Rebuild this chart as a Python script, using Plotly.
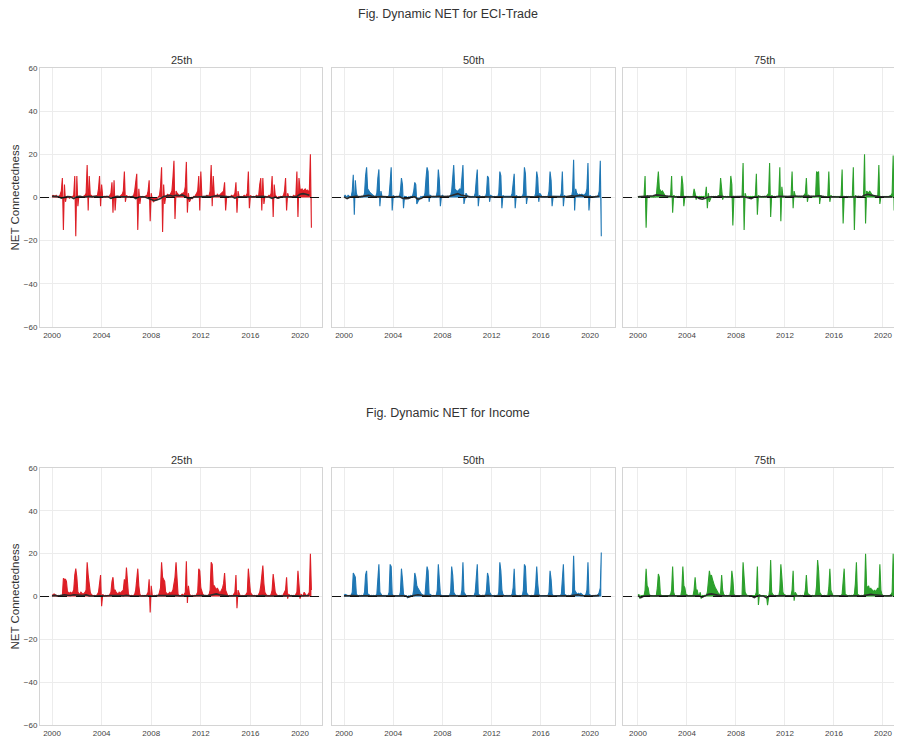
import pandas as pd
import plotly.graph_objects as go

# ---------------- data (monthly, Jan 2000 .. Dec 2020) ----------------
MONTHS = pd.date_range("2000-01-01", "2020-12-01", freq="MS")
QUARTERS = pd.date_range("2000-01-01", "2020-10-01", freq="QS")

ROW_TITLES = ["Fig. Dynamic NET for ECI-Trade", "Fig. Dynamic NET for Income"]
PANEL_TITLES = ["25th", "50th", "75th"]
Y_TICKS = [-60, -40, -20, 0, 20, 40, 60]
X_TICK_YEARS = [2000, 2004, 2008, 2012, 2016, 2020]
COLORS = ["#dd1f26", "#1f77b4", "#2ca02c"]

eci_25 = [
    0.5, 1, 0.8, 0.5, 1, 0.3, 0.6, 0.5, 1.5, 3, 9, -15,
    6, -2, 0.5, 0, 0.3, -0.5, 0.4, 0.2, 0.5, 1, 10, -18,
    10, -4, 0.5, 0.3, 0.5, 0.2, 0.4, 0.6, 1, 2, 15, -6,
    10, 1, 1, 0.5, 0.5, 0.3, 0.5, 0.8, 1, 4, 10, -4,
    6, 0.5, 0.3, 0.5, 0.2, 0.5, 0.3, 0.5, 1, 2, 7, -7,
    8, -6, 0.5, 0.3, 0.5, 0.2, 0.5, 1, 1.5, 3, 12, -2,
    1, 0.5, 0.3, 0.5, 0.2, 0.3, 0.4, 1, 3, 7, 11, -15,
    4, -3, 0.5, 0.3, 0.5, 0.2, 0.5, 0.8, 1, 3, 8, -11,
    2, -1, -2, -1.5, -1, -1, -0.5, 0, 1, 5, 14, -16,
    6, -3, 0.5, 1, 1.5, 1, 1, 2, 3, 9, 17, -10,
    3, 2, 1.5, 1, 1, 1.5, 2, 2, 2.5, 5, 16.5, -7,
    2, -2, -1, 0, -0.5, 0.5, 0.3, 1, 2, 3, 10, -6,
    12, 0.5, 0.3, 0.5, 0.2, 0.5, 1, 0.5, 1, 3, 15, -4,
    10, 1, 1, 0.5, 1.5, 1, 1, 1.5, 2, 2, 3, 7,
    -6, 0.5, 0.3, 0.5, 0.2, 0.5, 1, 0.5, 1, 2, 7, -7,
    3, 0.5, 0.3, 0.5, 0.2, 0.5, 1, 0.5, 1, 2, 12, -5,
    1, 0.5, 0.3, 0.5, 0.2, 0.5, 1, 0.5, 1, 6, 9, -6,
    9, -3, 0.3, 0.5, 0.2, 0.5, 1, 0.5, 2, 10, -9, 6,
    1, 0.5, -0.5, 0.3, 0.2, 0.5, 0.3, 0.5, 1, 3, 9, -6,
    2, 0.5, 0.3, 0.5, 0.2, 0.5, 1, 0.5, 1, 12, -9, 9,
    4, 3.5, 4, 3, 3.5, 4, 3, 3.5, 3, 3, 20, -14,
]

eci_50 = [
    0.5, 1, 0.5, 0.3, 1, 0.5, 0.3, 0.5, 3, 10.5, -8, 8,
    2, 0.5, 0.3, 0.5, 0.2, 0.5, 0.3, 0.5, 2, 10, 14, 4,
    3, 2.5, 2, 1.5, 1, 0.5, 0.3, 0.5, 2, 9, 13, -4,
    3, 0.5, 0.3, 0.5, 0.2, 0.5, 0.3, 0.5, 1, 7, 14, -6,
    1, 0.5, 0.3, 0.5, 0.2, 0.5, 0.3, 3, 9, 6, -5, 0.5,
    0.5, 0.3, -0.5, 0.3, 0.2, 0.5, 0.3, 1, 3, 7, 6, -3,
    -2, -1, 0.3, 0.5, 0.2, 0.5, 0.3, 2, 9, 14, 12, -2,
    1, 0.5, 0.3, 0.5, 0.2, 0.5, 0.3, 3, 13, 8, -4, 0.5,
    1, 0.5, 0.3, 0.5, 0.2, 0.5, 0.3, 0.5, 1, 3, 8, 15,
    4, 3.5, 3, 3, 3.5, 4, 3, 8, 15, -3, 1, 2,
    1, 0.5, 0.3, 0.5, 0.2, 0.5, 0.3, 0.5, 2, 8, 13, -4,
    1, 0.5, 0.3, 0.5, 0.2, 0.5, 0.3, 2, 10, 9, -2, 1,
    0.5, 0.5, 0.3, 0.5, 0.2, 0.5, 0.3, 2, 12, 10, -5, 1,
    0.5, 0.5, 0.3, 0.5, 0.2, 0.5, 0.3, 0.5, 2, 8, 11, -5,
    1, 0.5, 0.3, 0.5, 0.2, 0.5, 0.3, 2, 14, 11, -3, 0.5,
    0.5, 0.5, 0.3, 0.5, 0.2, 0.5, 0.3, 2, 12, 9, -2, 2,
    1, 0.5, 0.3, 0.5, 0.2, 0.5, 0.3, 0.5, 3, 12, 8, -4,
    0.5, 0.5, 0.3, 0.5, 0.2, 0.5, 0.3, 0.5, 2, 12, -4, 1,
    0.5, 0.5, 0.3, 0.5, 0.2, 0.5, 0.3, 3, 17.5, -6, 4, 2,
    1.5, 1, 1.5, 1, 1.5, 1, 1, 1.5, 2, 4, 16, -6,
    1, 0.5, 0.3, 0.5, 0.2, 0.5, 0.3, 0.5, 1, 3, 17, -18,
]

eci_75 = [
    0.5, 0.3, 0.5, 0.2, 0.5, 0.3, 0.5, 10, -14, 1, 0.5, 0.3,
    0.5, 0.3, 0.5, 0.2, 0.5, 0.3, 0.5, 9, 12, 4, 3, 2.5,
    3, 2, 1, 0.5, 0.3, 0.5, 0.2, 0.5, 1, 10, -7, 1,
    0.5, 0.3, 0.5, 0.2, 0.5, 0.3, 0.5, 10, 6, -4, 0.5, 0.3,
    0.5, 0.3, 0.5, 0.2, 0.5, 0.3, 0.5, 4, 2, -1, 0.5, 0.3,
    0.5, 0.3, 0.5, 0.2, 0.5, 0.3, 0.5, 5, -5, 2, -2, -1,
    0.5, 0.3, 0.5, 0.2, 0.5, 0.3, 0.5, 0.5, 1, 9, 5, -1,
    0.5, 0.3, 0.5, 0.2, 0.5, 0.3, 0.5, 10, 6, -13, 0.5, 0.3,
    0.5, 0.3, 0.5, 0.2, 0.5, 0.3, 0.5, 16, -15, 2, 0.5, 0.3,
    0.5, 0.3, 0.5, 0.2, 0.5, 0.3, 0.5, 0.5, 11, -8, 1, 0.5,
    0.5, 0.3, 0.5, 0.2, 0.5, 0.3, 0.5, 1, 2, 16, -9, 1,
    0.5, 0.3, 0.5, 0.2, 0.5, 0.3, 0.5, 14, -11, 5, 0.5, 0.3,
    0.5, 0.3, 0.5, 0.2, 0.5, 0.3, 0.5, 12, -5, 3, 1, 0.5,
    0.5, 0.3, 0.5, 0.2, 0.5, 0.3, 0.5, 1, 2, 9, -2, 1,
    0.5, 0.3, 0.5, 0.2, 0.5, 0.3, 0.5, 12, 11, 12, -3, 1,
    0.5, 0.3, 0.5, 0.2, 0.5, 0.3, 0.5, 12, -2, 1, 0.5, 0.3,
    0.5, 0.3, 0.5, 0.2, 0.5, 0.3, 0.5, 0.5, 13, -12, 0.5, 0.3,
    0.5, 0.3, 0.5, 0.2, 0.5, 0.3, 0.5, 14, -15, 1, 0.5, 0.3,
    0.5, 0.3, 0.5, 0.2, 0.5, 0.3, 20, -12, 3, 2.5, 2, 3,
    2, 1.5, 1, 0.5, 0.3, 0.5, 0.5, 1, 15, -3, 0.5, 0.3,
    0.5, 0.3, 0.5, 0.2, 0.5, 0.3, 0.5, 0.5, 1, 2, 19.5, -6,
]

inc_25 = [
    0.5, 1, 1.2, 0.8, 0.5, 0.3, 0.5, 0.2, 0.5, 0.3, 0.5, 8.5,
    8, 8, 7, 2, 2, 1.5, 2, 1.5, 2, 3, 10, 13,
    9, 2, 1.5, 1, 2, 1.5, 1, 1.5, 2, 3, 16, 10,
    4, 2, 1, 0.5, 0.3, 0.5, 0.2, 0.5, 1, 2, 6, 10,
    -4.5, 1, 0.5, 0.3, 0.5, 0.2, 0.5, 0.3, 1, 2, 7, 9,
    3, 3, 2, 1.5, 1, 2, 1.5, 2, 2.5, 3, 8, 5,
    13.5, 3, 1, 0.5, 0.3, 0.5, 0.2, 0.5, 1, 3, 8, 13,
    5, 1, 0.5, 0.3, 0.5, 0.2, 0.5, 0.3, 1, 2, 8, -7.5,
    5, 0.5, 0.3, 0.5, 0.2, 0.5, 0.3, 0.5, 2, 4, 16, 9,
    8, 7, 2, 1.5, 1, 1.5, 2, 1.5, 2, 3, 6, 9,
    16, 5, 1, 0.5, 0.3, 0.5, 1, 0.5, 1, 2, 16.5, -3,
    5, 1, 0.5, 0.3, 0.5, 0.2, 0.5, 0.3, 1, 2, 13, 12,
    4, 2, 1, 0.5, 0.3, 0.5, 0.2, 0.5, 1, 3, 16, 15,
    5, 5, 4, 3, 4, 3, 2, 2, 3, 4, 6, 11,
    3, 1, 0.5, 0.3, 0.5, 0.2, 0.5, 0.3, 1, 2, 10, -5.5,
    3, 1, 0.5, 0.3, 0.5, 0.2, 0.5, 0.3, 1, 2, 13, 6,
    2, 1, 0.5, 0.3, 0.5, 0.2, 0.5, 0.3, 1, 2, 5, 10,
    14.5, 6, 2, 1, 0.5, 0.3, 0.5, 0.2, 1, 3, 10.5, 6,
    2, 1, 0.5, 0.3, 0.5, 0.2, 0.5, 0.3, 1, 2, 3, 9,
    -1, 1, 0.5, 0.3, 0.5, 0.2, 0.5, 0.3, 1, 2, 12, 6,
    -1, 1, 0.5, 0.3, 2, 1, 0.5, 0.3, 1, 2, 20, 3,
]

inc_50 = [
    0.5, 1, 0.8, 0.5, 0.3, 0.5, 0.2, 0.5, 2, 11, 10, 9,
    1, 0.5, 0.3, 0.5, 0.2, 0.5, 0.3, 0.5, 2, 10, 12, 1,
    1, 0.5, 0.3, 0.5, 0.2, 0.5, 0.3, 0.5, 1, 8, 15, 2,
    1, 0.5, 0.3, 0.5, 0.2, 0.5, 0.3, 0.5, 2, 15, 14, 1,
    0.5, 0.5, 0.3, 0.5, 0.2, 0.5, 0.3, 2, 13, 8, 1, 0.5,
    0.5, 0.3, -0.5, 0.3, 0.2, 0.5, 0.3, 0.5, 3, 11, 9, 5,
    4, 3, 2, 1.5, 1, 0.5, 0.3, 0.5, 8, 14, 12, 1,
    1, 0.5, 0.3, 0.5, 0.2, 0.5, 0.3, 3, 15, 8, 1, 0.5,
    0.5, 0.5, 0.3, 0.5, 0.2, 0.5, 0.3, 0.5, 2, 14, 10, 2,
    1, 0.5, 0.3, 0.5, 0.2, 0.5, 0.3, 3, 16, 2, 1, 0.5,
    0.5, 0.5, 0.3, 0.5, 0.2, 0.5, 0.3, 0.5, 2, 9, 15, 1,
    0.5, 0.5, 0.3, 0.5, 0.2, 0.5, 0.3, 3, 11, 9, 2, 1,
    0.5, 0.5, 0.3, 0.5, 0.2, 0.5, 0.3, 2, 16, 12, 3, 1,
    0.5, 0.5, 0.3, 0.5, 0.2, 0.5, 0.3, 0.5, 1, 4, 13, 1,
    0.5, 0.5, 0.3, 0.5, 0.2, 0.5, 0.3, 3, 15, 14, 2, 1,
    0.5, 0.5, 0.3, 0.5, 0.2, 0.5, 0.3, 5, 14, 6, 1, 0.5,
    0.5, 0.5, 0.3, 0.5, 0.2, 0.5, 0.3, 0.5, 2, 12, 8, 1,
    0.5, 0.5, 0.3, 0.5, 0.2, 0.5, 0.3, 0.5, 1, 10, 15, 1,
    0.5, 0.5, 0.3, 0.5, 0.2, 0.5, 0.3, 2, 19, 3, 2, 1.5,
    1, 1.5, 1, 1.5, 1, 0.5, 0.3, 0.5, 1, 3, 16, 1,
    0.5, 0.5, 0.3, 0.5, 0.2, 0.5, 0.3, 0.5, 1, 2, 4, 20.5,
]

inc_75 = [
    0.5, 1, -1, 0.5, 0.3, 0.5, 0.2, 3, 13, 5, 4, 1,
    0.5, 0.5, 0.3, 0.5, 0.2, 0.5, 0.3, 4, 10.5, 9, 1, 0.5,
    0.5, 0.5, 0.3, 0.5, 0.2, 0.5, 0.3, 0.5, 1, 3, 14, 2,
    0.5, 0.5, 0.3, 0.5, 0.2, 0.5, 0.3, 3, 14, 5, 4, 1,
    0.5, 0.5, 0.3, 0.5, 0.2, 0.5, 0.3, 3, 9, 3, 3, 1,
    0.5, 2, -1, 0.5, 0.3, 0.5, 0.3, 0.5, 2, 7, 12, 9,
    10, 8, 6, 5, 4, 3, 2, 1, 0.5, 2, 10, 3,
    1, 0.5, 0.3, 0.5, 0.2, 0.5, 0.3, 3, 12, 8, 1, 0.5,
    0.5, 0.5, 0.3, 0.5, 0.2, 0.5, 0.3, 16, 5, 2, 1, 0.5,
    0.5, 0.5, 0.3, 0.5, 0.2, 0.5, 0.3, 0.5, 2, 14, -4, 1,
    0.5, 0.5, 0.3, 0.5, 0.2, 0.5, 0.3, -4, 1, 3, 17, 2,
    1, 0.5, 0.3, 0.5, 0.2, 0.5, 0.3, 3, 15, 9, 2, 1,
    0.5, 0.5, 0.3, 0.5, 0.2, 0.5, 0.3, 3, 12, -2, 2, 1,
    0.5, 0.5, 0.3, 0.5, 0.2, 0.5, 0.3, 0.5, 3, 10, 2, 1,
    0.5, 0.5, 0.3, 0.5, 0.2, 0.5, 0.3, 5, 17, 12, 2, 1,
    0.5, 0.5, 0.3, 0.5, 0.2, 0.5, 0.3, 4, 13, 3, 1, 0.5,
    0.5, 0.5, 0.3, 0.5, 0.2, 0.5, 0.3, 0.5, 1, 8, 13, 1,
    0.5, 0.5, 0.3, 0.5, 0.2, 0.5, 0.3, 0.5, 1, 6, 16, 1,
    0.5, 0.5, 0.3, 0.5, 0.2, 0.5, 0.3, 20, 5, 4, 5, 3,
    4, 3, 3, 2, 3, 2, 3, 4, 2, 15, 3, 1,
    0.5, 0.5, 0.3, 0.5, 0.2, 0.5, 0.3, 0.5, 1, 2, 20, 1,
]

# dark near-zero companion lines (quarterly)
dk_eci_25 = [
    0.5, 0.3, 0.4, -0.3, 0.2, 0.4, 0.3, -0.5, 0.3, 0.5, 0.2, 0.4,
    0.5, 0.3, 0.6, 0.2, 0.3, 0.2, 0.4, -0.4, 0.2, 0.5, 0.3, 0.4,
    0.3, 0.2, 0.4, -0.5, 0.2, 0.3, 0.2, -0.4, -1.0, -1.5, -1.0, -0.5,
    0.5, 0.8, 1.0, 0.6, 1.0, 0.8, 1.2, 0.5, -0.5, -0.3, 0.3, 0.2,
    0.4, 0.3, 0.5, 0.2, 0.6, 0.8, 0.7, 0.5, 0.2, 0.3, 0.4, -0.3,
    0.3, 0.2, 0.4, 0.3, 0.2, 0.3, 0.4, 0.2, 0.5, 0.3, 0.2, -0.4,
    0.2, -0.3, 0.3, 0.2, 0.4, 0.3, 0.2, 0.5, 1.5, 1.8, 1.5, 1.0,
]
dk_eci_50 = [
    0.3, -0.5, 0.2, 0.4, 0.5, 0.3, 0.6, 0.8, 1.0, 0.6, 0.4, 0.3,
    0.4, 0.2, 0.3, 0.2, 0.3, 0.2, 0.4, -0.3, -0.6, -0.4, 0.2, 0.3,
    -0.8, -0.5, 0.3, 0.4, 0.3, 0.2, 0.4, 0.5, 0.3, 0.4, 0.5, 1.0,
    1.5, 1.8, 1.2, 0.8, 0.4, 0.3, 0.2, 0.3, 0.3, 0.2, 0.3, 0.2,
    0.3, 0.2, 0.4, 0.3, 0.2, 0.3, 0.2, 0.4, 0.3, 0.2, 0.3, 0.4,
    0.4, 0.3, 0.2, 0.5, 0.3, 0.2, 0.3, 0.4, 0.3, 0.2, 0.4, 0.3,
    0.3, 0.5, 0.8, 0.6, 0.8, 1.0, 0.6, 0.4, 0.3, 0.2, 0.4, 0.5,
]
dk_eci_75 = [
    0.3, 0.4, 0.2, 0.3, 0.5, 0.8, 1.2, 1.0, 0.8, 0.5, 0.3, 0.2,
    0.2, 0.3, 0.4, 0.2, 0.3, 0.2, 0.3, 0.4, -0.5, -0.8, -0.3, 0.2,
    0.3, 0.2, 0.4, 0.5, 0.3, 0.2, 0.3, 0.4, 0.2, 0.3, 0.4, 0.2,
    -0.3, -0.5, 0.2, 0.3, 0.2, 0.3, 0.4, 0.3, 0.2, 0.3, 0.5, 0.4,
    0.3, 0.4, 0.6, 0.5, 0.4, 0.3, 0.5, 0.6, 0.5, 0.4, 0.6, 0.8,
    0.4, 0.3, 0.2, 0.4, 0.3, 0.2, 0.3, 0.2, 0.3, 0.2, 0.4, 0.3,
    0.4, 0.3, 1.0, 1.5, 1.2, 0.8, 0.4, 0.3, 0.3, 0.2, 0.4, 0.3,
]
dk_inc_25 = [
    0.3, 0.5, 0.2, 0.4, 0.8, 0.6, 0.5, 0.8, 0.6, 0.5, 0.4, 0.8,
    0.3, 0.2, 0.3, 0.5, 0.3, 0.2, 0.4, 0.5, 0.4, 0.5, 0.4, 0.3,
    0.5, 0.3, 0.2, 0.4, 0.3, 0.2, 0.3, 0.2, 0.3, 0.2, 0.4, 0.5,
    0.6, 0.5, 0.4, 0.5, 0.5, 0.3, 0.4, 0.3, 0.3, 0.2, 0.4, 0.5,
    0.5, 0.4, 0.3, 0.6, 1.0, 1.2, 0.8, 0.6, 0.3, 0.2, 0.3, 0.4,
    0.3, 0.2, 0.4, 0.3, 0.2, 0.3, 0.2, 0.4, 0.4, 0.3, 0.2, 0.3,
    0.2, 0.3, 0.2, 0.3, 0.2, 0.3, 0.4, 0.3, 0.2, 0.3, 0.2, 0.4,
]
dk_inc_50 = [
    0.3, 0.2, 0.4, 0.5, 0.3, 0.2, 0.3, 0.4, 0.3, 0.2, 0.3, 0.4,
    0.3, 0.2, 0.3, 0.4, 0.3, 0.2, 0.4, 0.3, 0.2, -0.3, 0.2, 0.5,
    0.8, 0.6, 0.4, 0.3, 0.2, 0.3, 0.4, 0.3, 0.2, 0.3, 0.2, 0.4,
    0.3, 0.2, 0.3, 0.4, 0.2, 0.3, 0.2, 0.3, 0.3, 0.2, 0.3, 0.4,
    0.2, 0.3, 0.2, 0.4, 0.3, 0.2, 0.3, 0.2, 0.3, 0.2, 0.4, 0.3,
    0.2, 0.3, 0.2, 0.4, 0.2, 0.3, 0.2, 0.3, 0.2, 0.3, 0.2, 0.4,
    0.3, 0.2, 0.4, 0.6, 0.8, 0.5, 0.3, 0.2, 0.2, 0.3, 0.2, 0.4,
]
dk_inc_75 = [
    0.3, -0.5, 0.2, 0.4, 0.3, 0.2, 0.4, 0.3, 0.2, 0.3, 0.2, 0.4,
    0.3, 0.2, 0.3, 0.4, 0.3, 0.2, 0.3, 0.4, 0.3, -0.3, 0.5, 1.0,
    1.2, 0.8, 0.5, 0.3, 0.3, 0.2, 0.4, 0.3, 0.3, 0.2, 0.4, 0.3,
    0.2, 0.3, -0.5, 0.3, 0.3, 0.2, -0.6, 0.4, 0.3, 0.2, 0.4, 0.3,
    0.3, 0.2, 0.3, 0.2, 0.2, 0.3, 0.4, 0.3, 0.3, 0.2, 0.3, 0.4,
    0.2, 0.3, 0.2, 0.4, 0.2, 0.3, 0.2, 0.3, 0.2, 0.3, 0.2, 0.4,
    0.3, 0.2, 0.5, 0.8, 1.0, 0.8, 0.6, 0.4, 0.3, 0.2, 0.3, 0.4,
]

SERIES = [[eci_25, eci_50, eci_75], [inc_25, inc_50, inc_75]]
DARK = [[dk_eci_25, dk_eci_50, dk_eci_75], [dk_inc_25, dk_inc_50, dk_inc_75]]

# ---------------- layout geometry ----------------
# page body has an 8px margin, so figure coordinates = screen coordinates - 8
OFF = 8
W, H = 902, 744 - OFF
X_DOMAINS_PX = [(40, 322), (332, 615), (623, 906)]      # screen px (last panel runs past the window)
X_RANGES = [(1999.03, 2021.77), (1999.02, 2022.03), (1998.78, 2021.88)]
Y_DOMAINS_PX = [(68, 327), (468, 725)]                  # screen px
TITLE_Y_PX = [14, 413]


def px_x(x):
    return (x - OFF) / W


def px_y(y):
    return 1 - (y - OFF) / H


def frac_date(y):
    yr = int(y)
    return pd.Timestamp(yr, 1, 1) + pd.Timedelta(days=(y - yr) * 365.25)


TICK_FONT = dict(family="Liberation Sans Narrow, Liberation Sans, Arial", size=8, color="#444444")

fig = go.Figure()
layout = dict(
    width=W, height=H, margin=dict(l=0, r=0, t=0, b=0),
    paper_bgcolor="white", plot_bgcolor="white", showlegend=False,
    font=dict(family="Liberation Sans, Arial", color="#333333"),
)
annotations = []
shapes = []

n = 0
for r in range(2):
    y0p, y1p = Y_DOMAINS_PX[r]
    ydom = [max(0.0, px_y(y1p)), min(1.0, px_y(y0p))]
    for c in range(3):
        n += 1
        xa = "x" if n == 1 else f"x{n}"
        ya = "y" if n == 1 else f"y{n}"
        xkey = "xaxis" if n == 1 else f"xaxis{n}"
        ykey = "yaxis" if n == 1 else f"yaxis{n}"
        x0p, x1p = X_DOMAINS_PX[c]
        xr = X_RANGES[c]
        layout[xkey] = dict(
            domain=[max(0.0, px_x(x0p)), min(1.0, px_x(x1p))], anchor=ya, type="date",
            range=[frac_date(xr[0]), frac_date(xr[1])],
            tickvals=[pd.Timestamp(yv, 1, 1) for yv in X_TICK_YEARS],
            ticktext=[str(yv) for yv in X_TICK_YEARS],
            showgrid=True, gridcolor="#ececec", gridwidth=1,
            showline=True, linecolor="#d4d4d4", linewidth=1, mirror=True,
            ticks="", tickfont=TICK_FONT, zeroline=False, automargin=False,
        )
        layout[ykey] = dict(
            domain=ydom, anchor=xa, range=[-60, 60],
            tickvals=Y_TICKS, showticklabels=(c == 0),
            showgrid=True, gridcolor="#ececec", gridwidth=1,
            showline=True, linecolor="#d4d4d4", linewidth=1, mirror=True,
            ticks="", tickfont=TICK_FONT, zeroline=False, automargin=False,
        )
        color = COLORS[c]
        fig.add_trace(go.Scatter(
            x=MONTHS, y=SERIES[r][c], xaxis=xa, yaxis=ya, mode="lines",
            line=dict(color=color, width=1.1), fill="tozeroy", fillcolor=color,
            hoverinfo="skip",
        ))
        fig.add_trace(go.Scatter(
            x=QUARTERS, y=DARK[r][c], xaxis=xa, yaxis=ya, mode="lines",
            line=dict(color="#2a2a2a", width=1.6), hoverinfo="skip",
        ))
        shapes.append(dict(
            type="line", xref=f"{xa} domain", yref=ya, x0=0, x1=1, y0=0, y1=0,
            line=dict(color="#111111", width=1, dash="dash"), layer="above",
        ))
        annotations.append(dict(
            text=PANEL_TITLES[c], xref="paper", yref="paper",
            x=px_x((x0p + x1p) / 2), y=px_y(y0p - 8), showarrow=False,
            font=dict(size=11, color="#333333"), xanchor="center", yanchor="middle",
        ))
    annotations.append(dict(
        text="NET Connectedness", xref="paper", yref="paper",
        x=px_x(14), y=px_y((y0p + y1p) / 2), textangle=-90, showarrow=False,
        font=dict(size=11.5, color="#333333"), xanchor="center", yanchor="middle",
    ))
    annotations.append(dict(
        text=ROW_TITLES[r], xref="paper", yref="paper",
        x=px_x(448), y=px_y(TITLE_Y_PX[r]), showarrow=False,
        font=dict(size=12.5, color="#333333"), xanchor="center", yanchor="middle",
    ))

layout["annotations"] = annotations
layout["shapes"] = shapes
fig.update_layout(**layout)
fig.write_html("out.html")
